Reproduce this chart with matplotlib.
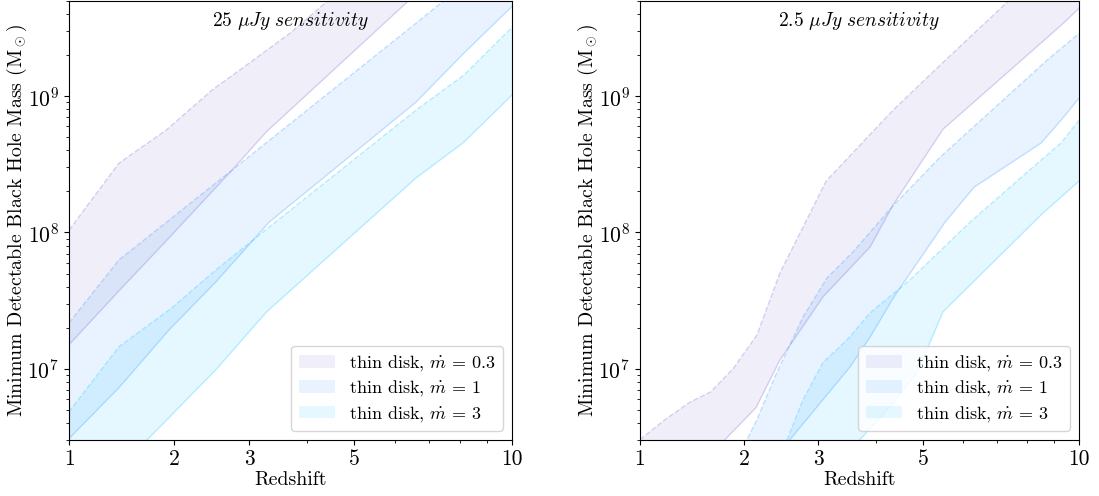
import matplotlib
matplotlib.use("Agg")
import matplotlib.pyplot as plt
import numpy as np

plt.rcParams['font.family'] = 'serif'
plt.rcParams['font.serif'] = ['cmr10', 'DejaVu Serif']
plt.rcParams['mathtext.fontset'] = 'cm'
plt.rcParams['axes.formatter.use_mathtext'] = True
plt.rcParams['axes.unicode_minus'] = False

# 25 uJy panel: upper (dashed) and lower (solid) edges of each band
z_up03_a = [1.0, 1.424, 1.905, 2.468, 2.891, 3.70, 5.0]
m_up03_a = [1.04e8, 3.23e8, 5.63e8, 1.11e9, 1.60e9, 2.94e9, 7.4e9]
z_lo03_a = [1.0, 1.424, 1.917, 2.746, 3.269, 6.40, 8.0]
m_lo03_a = [1.50e7, 3.73e7, 8.81e7, 2.87e8, 5.45e8, 5.05e9, 1.1e10]
z_up1_a = [1.0, 1.424, 2.746, 6.60, 7.47, 10.0]
m_up1_a = [2.17e7, 6.29e7, 2.87e8, 3.43e9, 5.05e9, 1.3e10]
z_lo1_a = [1.0, 1.424, 1.94, 2.52, 3.32, 6.60, 8.14, 10.0]
m_lo1_a = [3.07e6, 7.26e6, 1.93e7, 4.34e7, 1.19e8, 9.04e8, 2.07e9, 4.56e9]
z_up3_a = [1.0, 1.424, 1.972, 2.52, 3.28, 6.60, 8.14, 10.0]
m_up3_a = [4.84e6, 1.45e7, 2.80e7, 5.31e7, 1.06e8, 7.90e8, 1.43e9, 3.20e9]
z_lo3_a = [1.0, 1.424, 1.905, 2.52, 3.28, 6.60, 8.14, 10.0]
m_lo3_a = [7.8e5, 1.85e6, 4.16e6, 9.84e6, 2.62e7, 2.51e8, 4.60e8, 1.02e9]

# 2.5 uJy panel
z_up03_b = [1.0, 1.204, 1.419, 1.635, 1.870, 2.150, 2.444, 3.119, 4.342, 5.413, 7.382, 10.0]
m_up03_b = [3.02e6, 4.23e6, 5.63e6, 6.79e6, 1.0e7, 1.77e7, 5.05e7, 2.38e8, 7.9e8, 1.69e9, 5.05e9, 1.5e10]
z_lo03_b = [1.0, 1.419, 1.782, 2.138, 2.444, 3.071, 3.887, 4.342, 5.488, 9.258, 10.0]
m_lo03_b = [6.6e5, 1.64e6, 3.02e6, 5.18e6, 1.16e7, 3.37e7, 7.83e7, 1.59e8, 5.73e8, 3.31e9, 4.41e9]
z_up1_b = [2.0, 2.150, 2.378, 2.767, 3.135, 3.574, 4.321, 5.413, 7.189, 8.716, 10.0]
m_up1_b = [2.77e6, 4.23e6, 8.74e6, 2.40e7, 4.64e7, 7.20e7, 1.54e8, 3.57e8, 9.35e8, 1.84e9, 2.89e9]
z_lo1_b = [2.0, 2.581, 3.135, 3.521, 3.887, 4.363, 5.538, 6.318, 8.492, 9.258, 10.0]
m_lo1_b = [1.25e6, 3.02e6, 6.45e6, 1.03e7, 1.71e7, 3.37e7, 1.19e8, 2.15e8, 4.53e8, 6.67e8, 9.67e8]
z_up3_b = [2.5, 2.767, 3.071, 3.469, 3.887, 4.706, 6.233, 8.492, 9.258, 10.0]
m_up3_b = [2.66e6, 5.93e6, 1.11e7, 1.63e7, 2.57e7, 4.49e7, 1.21e8, 3.40e8, 4.53e8, 6.67e8]
z_lo3_b = [2.5, 3.699, 4.281, 4.863, 5.488, 8.566, 10.0]
m_lo3_b = [8.0e5, 3.02e6, 5.27e6, 9.35e6, 2.62e7, 1.39e8, 2.38e8]

labels = [r'thin disk, $\dot{m}\,=\,0.3$', r'thin disk, $\dot{m}\,=\,1$', r'thin disk, $\dot{m}\,=\,3$']
colors = ['slateblue', 'dodgerblue', 'deepskyblue']
titles = [r'$\mathit{25}\ \mu\mathit{Jy\ sensitivity}$', r'$\mathit{2.5}\ \mu\mathit{Jy\ sensitivity}$']

panels = [
    [(z_up03_a, m_up03_a, z_lo03_a, m_lo03_a),
     (z_up1_a, m_up1_a, z_lo1_a, m_lo1_a),
     (z_up3_a, m_up3_a, z_lo3_a, m_lo3_a)],
    [(z_up03_b, m_up03_b, z_lo03_b, m_lo03_b),
     (z_up1_b, m_up1_b, z_lo1_b, m_lo1_b),
     (z_up3_b, m_up3_b, z_lo3_b, m_lo3_b)],
]


def fwd(z):
    return np.log10(1 + np.asarray(z, dtype=float))


def inv(u):
    return 10 ** np.asarray(u, dtype=float) - 1


fig = plt.figure(figsize=(10.99, 4.96), dpi=100)
lefts = [69 / 1099, 640 / 1099]
widths = [443 / 1099, 439 / 1099]

for i, bands in enumerate(panels):
    ax = fig.add_axes([lefts[i], 56 / 496, widths[i], 439 / 496])
    ax.set_xscale('function', functions=(fwd, inv))
    ax.set_yscale('log')

    for (zu, mu, zl, ml), c, lab in zip(bands, colors, labels):
        xs = np.concatenate([zu, zl[::-1]])
        ys = np.concatenate([mu, ml[::-1]])
        ax.fill(xs, ys, color=c, alpha=0.1, lw=0, label=lab)
        ax.plot(zu, mu, color=c, alpha=0.25, lw=1, ls='--')
        ax.plot(zl, ml, color=c, alpha=0.25, lw=1)

    ax.set_xlim(1, 10)
    ax.set_ylim(3e6, 5e9)
    ax.set_xticks([1, 2, 3, 5, 10])
    ax.set_xticklabels(['1', '2', '3', '5', '10'])
    ax.set_xticks([4, 6, 7, 8, 9], minor=True)
    ax.tick_params(labelsize=15.5)
    ax.set_xlabel('Redshift', fontsize=14.3, labelpad=1)
    ax.set_ylabel(r'Minimum Detectable Black Hole Mass (M$_\odot$)', fontsize=14.3, labelpad=-1)
    ax.text(0.5, 0.955, titles[i], transform=ax.transAxes, ha='center', va='center', fontsize=14)
    ax.legend(loc='lower right', fontsize=13, handlelength=2.0, labelspacing=0.3)

fig.savefig('out.png', dpi=100)
